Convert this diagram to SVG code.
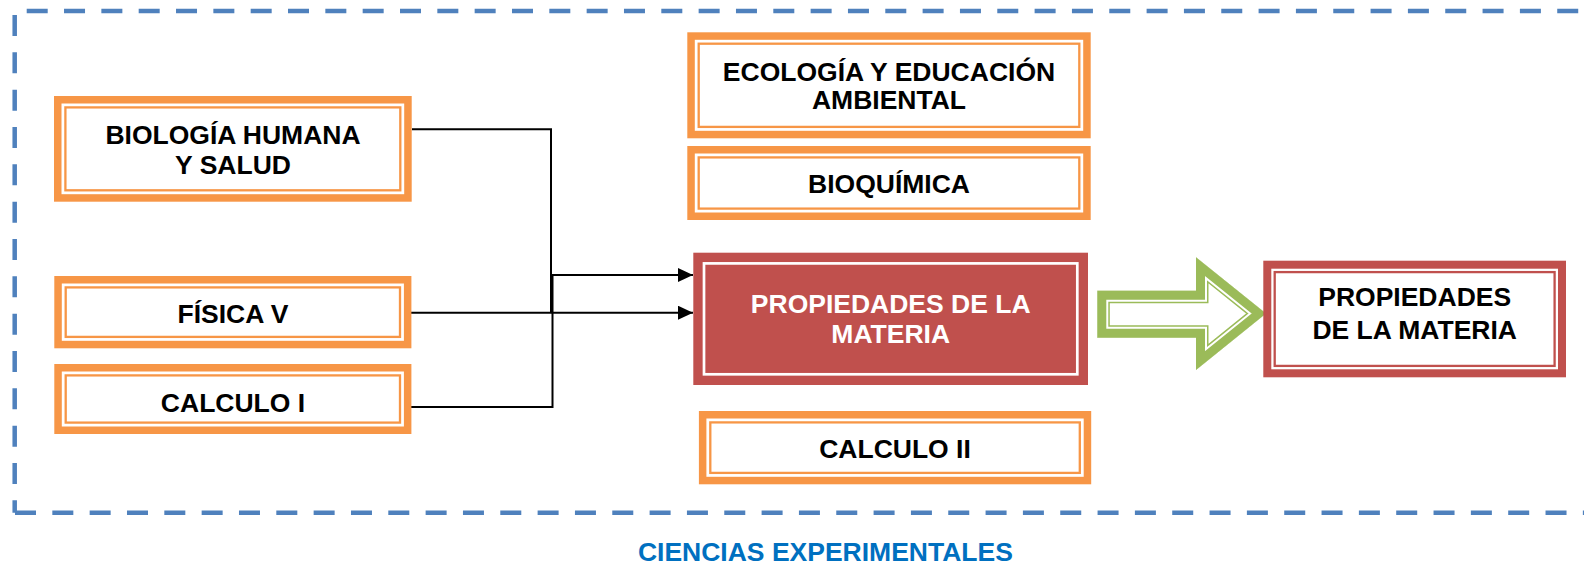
<svg xmlns="http://www.w3.org/2000/svg" width="1584" height="564" viewBox="0 0 1584 564">
<style>
.t{font-family:"Liberation Sans",Arial,sans-serif;font-weight:bold;font-size:26.5px;text-anchor:middle;fill:#000}
.w{fill:#fff}
.blue{fill:#0070C0}
.ob{fill:#fff;stroke:#F79646;stroke-width:7.5}
.oth{fill:none;stroke:#F79646;stroke-width:2.3}
.rb{fill:#fff;stroke:#C0504D;stroke-width:8}
.rth{fill:none;stroke:#C0504D;stroke-width:2.3}
.dash{stroke:#4F81BD;stroke-width:4.5;stroke-dasharray:21 16.33;fill:none}
.con{fill:none;stroke:#000;stroke-width:2}
</style>
<defs>
<marker id="ah" markerUnits="userSpaceOnUse" markerWidth="16" markerHeight="16" refX="15" refY="7" orient="auto">
<path d="M0,0 L15,7 L0,14 Z" fill="#000"/>
</marker>
<clipPath id="arrClip">
<polygon points="1097.3,290.7 1196,290.7 1196,257.3 1266,313.5 1196,370 1196,337.7 1097.3,337.7"/>
</clipPath>
</defs>

<g id="border">
<line class="dash" x1="26.7" y1="11" x2="1584" y2="11"/>
<line class="dash" x1="14.7" y1="15" x2="14.7" y2="512.7"/>
<line class="dash" x1="15" y1="512.7" x2="1584" y2="512.7"/>
</g>

<g id="connectors">
<path class="con" d="M412,129.3 H551 V312.7"/>
<path class="con" d="M405,407 H552.5 V275 H693" marker-end="url(#ah)"/>
<path class="con" d="M405,312.7 H693" marker-end="url(#ah)"/>
</g>

<g id="biologia">
<rect class="ob" x="57.75" y="99.75" width="350.2" height="98.2"/>
<rect class="oth" x="65.4" y="107.4" width="334.9" height="82.9"/>
<text class="t" x="233" y="144">BIOLOGÍA HUMANA</text>
<text class="t" x="233" y="174">Y SALUD</text>
</g>

<g id="fisica">
<rect class="ob" x="58.05" y="279.75" width="349.6" height="64.8"/>
<rect class="oth" x="65.7" y="287.4" width="334.3" height="49.5"/>
<text class="t" x="233" y="323.3">FÍSICA V</text>
</g>

<g id="calculo1">
<rect class="ob" x="58.05" y="367.75" width="349.6" height="62.5"/>
<rect class="oth" x="65.7" y="375.4" width="334.3" height="47.2"/>
<text class="t" x="233" y="411.7">CALCULO I</text>
</g>

<g id="ecologia">
<rect class="ob" x="691.05" y="36.05" width="395.9" height="98.5"/>
<rect class="oth" x="698.7" y="43.7" width="380.6" height="83.2"/>
<text class="t" x="889" y="81">ECOLOGÍA Y EDUCACIÓN</text>
<text class="t" x="889" y="109.3">AMBIENTAL</text>
</g>

<g id="bioquimica">
<rect class="ob" x="691.05" y="149.75" width="395.9" height="66.5"/>
<rect class="oth" x="698.7" y="157.4" width="380.6" height="51.2"/>
<text class="t" x="889" y="193.3">BIOQUÍMICA</text>
</g>

<g id="propiedades-centro">
<rect x="693.3" y="252.7" width="394.7" height="132.3" fill="#C0504D"/>
<rect x="704" y="263.4" width="373.3" height="110.9" fill="none" stroke="#fff" stroke-width="2.7"/>
<text class="t w" x="890.7" y="313.3">PROPIEDADES DE LA</text>
<text class="t w" x="890.7" y="342.7">MATERIA</text>
</g>

<g id="calculo2">
<rect class="ob" x="702.65" y="414.75" width="384.8" height="65.8"/>
<rect class="oth" x="710.3" y="422.4" width="369.5" height="50.5"/>
<text class="t" x="895" y="458.3">CALCULO II</text>
</g>

<g id="flecha">
<g clip-path="url(#arrClip)">
<polygon points="1097.3,290.7 1196,290.7 1196,257.3 1266,313.5 1196,370 1196,337.7 1097.3,337.7" fill="#fff" stroke="#9BBB59" stroke-width="25" stroke-linejoin="miter" stroke-miterlimit="10"/>
<polygon points="1097.3,290.7 1196,290.7 1196,257.3 1266,313.5 1196,370 1196,337.7 1097.3,337.7" fill="none" stroke="#fff" stroke-width="22" stroke-linejoin="miter" stroke-miterlimit="10"/>
<polygon points="1097.3,290.7 1196,290.7 1196,257.3 1266,313.5 1196,370 1196,337.7 1097.3,337.7" fill="none" stroke="#9BBB59" stroke-width="18" stroke-linejoin="miter" stroke-miterlimit="10"/>
</g>
</g>

<g id="propiedades-final">
<rect class="rb" x="1267.3" y="264.7" width="294.7" height="108.6"/>
<rect class="rth" x="1274.7" y="272.1" width="279.9" height="93.8"/>
<text class="t" x="1414.7" y="305.7">PROPIEDADES</text>
<text class="t" x="1414.7" y="339">DE LA MATERIA</text>
</g>

<g id="titulo">
<text class="t blue" x="825.4" y="560.5">CIENCIAS EXPERIMENTALES</text>
</g>
</svg>
